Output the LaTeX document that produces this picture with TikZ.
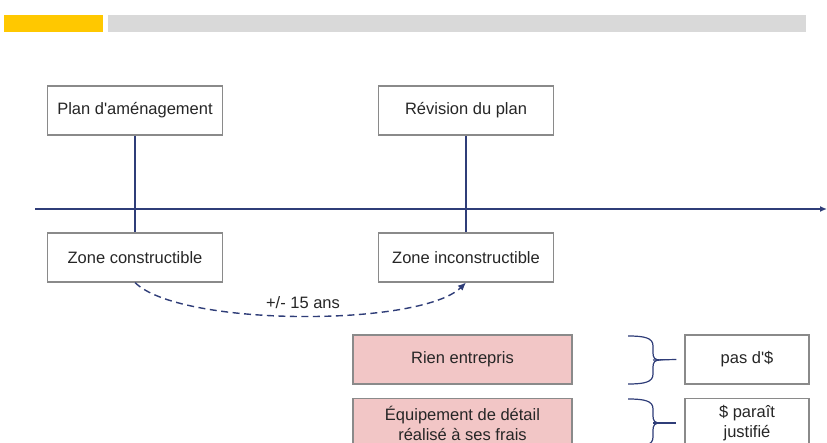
\documentclass[tikz,border=0pt]{standalone}
\usepackage{fontspec}
\setmainfont{Liberation Sans}[Ligatures=TeXOff]
\usetikzlibrary{arrows.meta}
\definecolor{navy}{HTML}{2F3D78}
\definecolor{boxgray}{HTML}{8A8A8A}
\definecolor{pinkfill}{HTML}{F2C6C6}
\definecolor{txt}{HTML}{262626}
\definecolor{yel}{HTML}{FFC800}
\definecolor{barg}{HTML}{D9D9D9}
\tikzset{
  box/.style={draw=boxgray, line width=1.1pt, fill=white, minimum width=175pt, minimum height=49pt, inner sep=0pt, text=txt, font=\fontsize{16.5}{20}\selectfont, align=center},
  pinkbox/.style={box, fill=pinkfill, minimum width=219pt},
  smallbox/.style={box, minimum width=124pt},
  conn/.style={draw=navy, line width=1.5pt},
  brace/.style={draw=navy, line width=1.2pt}
}
\begin{document}
\begin{tikzpicture}[x=1pt,y=-1pt]
\clip (0,0) rectangle (827,443);
\fill[white] (0,0) rectangle (827,443);
% top bars
\fill[yel] (4,15) rectangle (103,32);
\fill[barg] (108,15) rectangle (806,32);
% axis
\coordinate (axs) at (35,209);
\coordinate (axe) at (827,209);
\draw[conn, -{Latex[length=7pt,width=6pt]}] (axs) -- (axe);
% boxes
\node[box] (plan) at (135,110.5) {Plan d'aménagement};
\node[box] (rev) at (466,110.5) {Révision du plan};
\node[box] (zc) at (135,257.5) {Zone constructible};
\node[box] (zi) at (466,257.5) {Zone inconstructible};
\draw[conn] (plan.south) -- (zc.north);
\draw[conn] (rev.south) -- (zi.north);
% dashed arc
\draw[navy, line width=1.4pt, dash pattern=on 7pt off 4.5pt, -{Latex[length=8pt,width=7pt]}]
  (zc.south) .. controls (180,327) and (420,327) .. (zi.south);
\node[text=txt, font=\fontsize{16.5}{20}\selectfont] (lbl) at (303,302.5) {+/- 15 ans};
% pink boxes
\node[pinkbox] (rien) at (462.5,359.5) {Rien entrepris};
\node[pinkbox] (equip) at (462.5,423) {Équipement de détail\\réalisé à ses frais};
% right boxes
\node[smallbox] (pas) at (747,359.5) {pas d'\$};
\node[smallbox] (just) at (747,423) {\$ paraît\\justifié};
% braces
\coordinate (b1) at (653,360);
\draw[brace] (628,336) .. controls (645,336) and (653,338) .. (653,346) -- (653,353)
  .. controls (653,358) and (655,360) .. (660,360) .. controls (655,360) and (653,362) .. (653,367)
  -- (653,374) .. controls (653,382) and (645,384) .. (628,384);
\draw[brace] (b1) -- ([xshift=-8pt]pas.west);
\coordinate (b2) at (653,423);
\draw[brace] (628,399) .. controls (645,399) and (653,401) .. (653,409) -- (653,416)
  .. controls (653,421) and (655,423) .. (660,423) .. controls (655,423) and (653,425) .. (653,430)
  -- (653,437) .. controls (653,445) and (645,447) .. (628,447);
\draw[brace] (b2) -- ([xshift=-8pt]just.west);
\end{tikzpicture}
\end{document}
